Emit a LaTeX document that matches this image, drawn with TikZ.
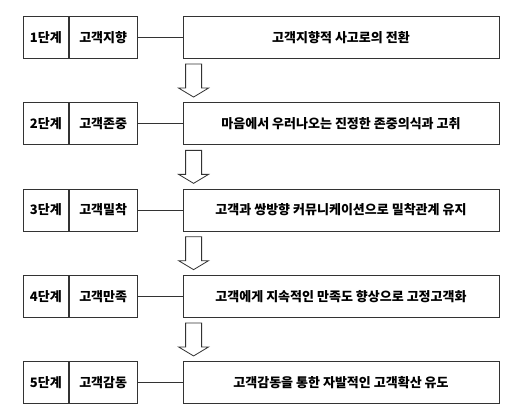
\documentclass[tikz,border=0pt]{standalone}
\usepackage{fontspec}
\setmainfont{Noto Sans CJK KR}
\usepackage{tikz}
\usetikzlibrary{shapes,arrows,positioning,calc}

\begin{document}
\begin{tikzpicture}[x=1pt, y=1pt,
	cell/.style={rectangle, draw=black!80, line width=0.8pt, minimum height=42pt, inner sep=0pt, font=\fontsize{13}{15}\selectfont\bfseries},
	stage/.style={cell, minimum width=45pt},
	aim/.style={cell, minimum width=68pt},
	goal/.style={cell, minimum width=316pt},
	down/.style={draw=black!80, line width=0.8pt, line join=miter},
	link/.style={draw=black!80, line width=0.8pt}]
	\useasboundingbox (0,0) rectangle (519,-404);

	\node [stage, anchor=north west] (stage1) at (23,-16) {1단계};
	\node [aim, right=0pt of stage1] (aim1) {고객지향};
	\node [goal, right=45pt of aim1] (goal1) {고객지향적 사고로의 전환};
	\path [link] (aim1) -- (goal1);

	\node [stage, below=43.5pt of stage1] (stage2) {2단계};
	\node [aim, right=0pt of stage2] (aim2) {고객존중};
	\node [goal, right=45pt of aim2] (goal2) {마음에서 우러나오는 진정한 존중의식과 고취};
	\path [link] (aim2) -- (goal2);

	\node [stage, below=43.5pt of stage2] (stage3) {3단계};
	\node [aim, right=0pt of stage3] (aim3) {고객밀착};
	\node [goal, right=45pt of aim3] (goal3) {고객과 쌍방향 커뮤니케이션으로 밀착관계 유지};
	\path [link] (aim3) -- (goal3);

	\node [stage, below=43.5pt of stage3] (stage4) {4단계};
	\node [aim, right=0pt of stage4] (aim4) {고객만족};
	\node [goal, right=45pt of aim4] (goal4) {고객에게 지속적인 만족도 향상으로 고정고객화};
	\path [link] (aim4) -- (goal4);

	\node [stage, below=43.5pt of stage4] (stage5) {5단계};
	\node [aim, right=0pt of stage5] (aim5) {고객감동};
	\node [goal, right=45pt of aim5] (goal5) {고객감동을 통한 자발적인 고객확산 유도};
	\path [link] (aim5) -- (goal5);

	% arrows between steps
	\foreach \a/\b in {1/2, 2/3, 3/4, 4/5} {
		\coordinate (mid\a) at ([xshift=11pt]$(goal\a.south west)!.5!(goal\b.north west)$);
		\path [down] (mid\a) ++(-8,16.5) -- ++(16,0) -- ++(0,-24) -- ++(7,0) -- ++(-15,-9) -- ++(-15,9) -- ++(7,0) -- cycle;
	}
\end{tikzpicture}
\end{document}
